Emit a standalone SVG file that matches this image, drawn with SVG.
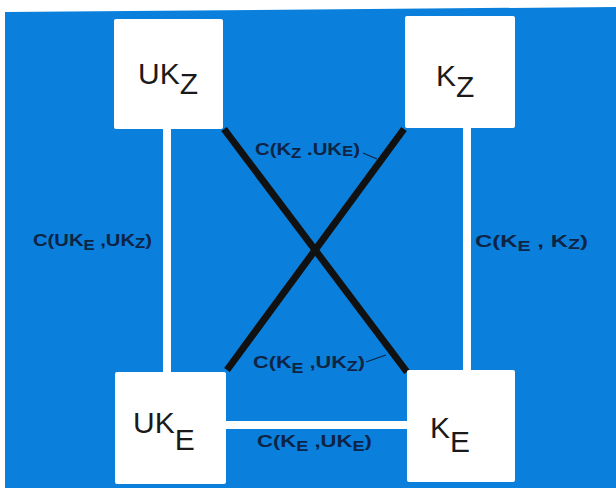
<svg xmlns="http://www.w3.org/2000/svg" width="616" height="488" viewBox="0 0 616 488">
<style>
.box{fill:#ffffff}
.nt{font-family:"Liberation Sans",Arial,sans-serif;font-size:30px;fill:#1a1a1a}
.lb{font-family:"Liberation Sans",Arial,sans-serif;font-size:17px;font-weight:bold;fill:#0d2445}
.sb{font-size:14px}
.wl{stroke:#ffffff;stroke-width:8;fill:none}
.bl{stroke:#111111;stroke-width:7;fill:none;stroke-linecap:butt}
.ld{stroke:#0d2445;stroke-width:1.3;fill:none}
</style>
<rect x="0" y="0" width="616" height="488" fill="#ffffff"/>
<polygon points="5,12 616,7 616,488 5,488" fill="#0a80dc"/>
<g id="connectors">
<line class="wl" x1="167" y1="128" x2="167" y2="373"/>
<line class="wl" x1="467" y1="127" x2="467" y2="371"/>
<line class="wl" x1="225" y1="425" x2="408" y2="425"/>
<line class="bl" x1="224" y1="129" x2="407" y2="372"/>
<line class="bl" x1="404" y1="129" x2="227" y2="370"/>
<path class="ld" d="M363,153 L377,159"/>
<path class="ld" d="M366,362 L386,355"/>
<text class="lb" x="33" y="246" textLength="119" lengthAdjust="spacingAndGlyphs">C(UK<tspan class="sb" dy="4">E</tspan><tspan dy="-4"> ,UK</tspan><tspan class="sb" dy="2">Z</tspan><tspan dy="-2">)</tspan></text>
<text class="lb" x="475" y="247" textLength="113" lengthAdjust="spacingAndGlyphs">C(K<tspan class="sb" dy="4">E</tspan><tspan dy="-4"> ,  K</tspan><tspan class="sb" dy="2">Z</tspan><tspan dy="-2">)</tspan></text>
<text class="lb" x="255" y="155" textLength="105" lengthAdjust="spacingAndGlyphs">C(K<tspan class="sb" dy="3">Z</tspan><tspan dy="-3"> .UK</tspan><tspan class="sb" dy="1">E</tspan><tspan dy="-1">)</tspan></text>
<text class="lb" x="253" y="368" textLength="112" lengthAdjust="spacingAndGlyphs">C(K<tspan class="sb" dy="5">E</tspan><tspan dy="-5"> ,UK</tspan><tspan class="sb" dy="3">Z</tspan><tspan dy="-3">)</tspan></text>
<text class="lb" x="257" y="447" textLength="115" lengthAdjust="spacingAndGlyphs">C(K<tspan class="sb" dy="4">E</tspan><tspan dy="-4"> ,UK</tspan><tspan class="sb" dy="4">E</tspan><tspan dy="-4">)</tspan></text>
</g>
<g id="UKz">
<rect class="box" x="114" y="19" width="109" height="110" rx="2"/>
<text class="nt" x="138" y="84">UK<tspan dy="10">Z</tspan></text>
</g>
<g id="Kz">
<rect class="box" x="405" y="16" width="110" height="112" rx="2"/>
<text class="nt" x="436" y="86">K<tspan dy="11">Z</tspan></text>
</g>
<g id="UKe">
<rect class="box" x="115" y="372" width="111" height="112" rx="2"/>
<text class="nt" x="133" y="433">UK<tspan dy="17">E</tspan></text>
</g>
<g id="Ke">
<rect class="box" x="407" y="370" width="108" height="112" rx="2"/>
<text class="nt" x="430" y="438">K<tspan dy="14">E</tspan></text>
</g>
</svg>
